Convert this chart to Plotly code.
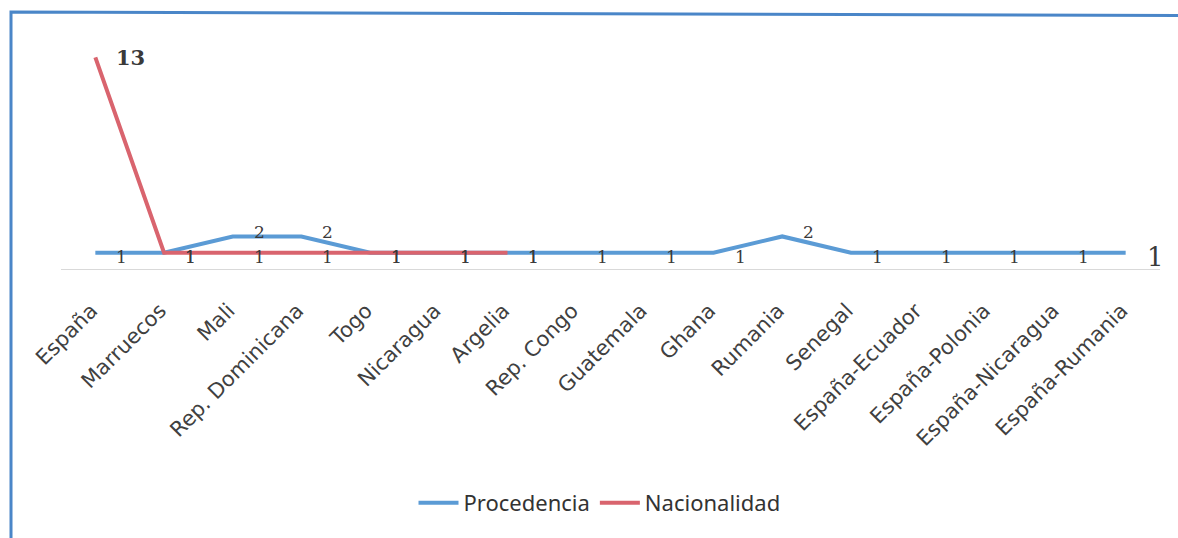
import plotly.graph_objects as go

categories = ["España", "Marruecos", "Mali", "Rep. Dominicana", "Togo", "Nicaragua",
              "Argelia", "Rep. Congo", "Guatemala", "Ghana", "Rumania", "Senegal",
              "España-Ecuador", "España-Polonia", "España-Nicaragua", "España-Rumania"]
procedencia = [1, 1, 2, 2, 1, 1, 1, 1, 1, 1, 2, 1, 1, 1, 1, 1]
nacionalidad = [13, 1, 1, 1, 1, 1, 1, None, None, None, None, None, None, None, None, None]

BLUE = "#5b9bd5"
RED = "#d9646e"

W, H = 1178, 538
L, R, T, B = 61, 18, 41, 269
PW, PH = W - L - R, H - T - B

def px2paper(px, py):
    return (px - L) / PW, (H - B - py) / PH

fig = go.Figure()
fig.add_trace(go.Scatter(x=categories, y=procedencia, mode="lines", name="Procedencia",
                         line=dict(color=BLUE, width=4)))
fig.add_trace(go.Scatter(x=categories, y=nacionalidad, mode="lines", name="Nacionalidad",
                         line=dict(color=RED, width=4), connectgaps=False))

annotations = []
for series in (procedencia, nacionalidad):
    for i, (c, v) in enumerate(zip(categories, series)):
        if v is None:
            continue
        big = (v >= 10)
        last = (i == len(categories) - 1)
        size = 26 if last else (21 if big else 17)
        if big:
            ys = 0
        elif v == 2:
            ys = 4
        else:
            ys = -4
        annotations.append(dict(
            x=c, y=v, xref="x", yref="y", text=str(v), showarrow=False,
            xanchor="left", yanchor="middle", xshift=20, yshift=ys, borderpad=0,
            font=dict(family="DejaVu Serif", size=size, color="#3a3a3a",
                      weight="bold" if big else "normal")))

x0, y0 = px2paper(11, 545)
x1, y1 = px2paper(11, 12)
x2, y2 = px2paper(1190, 15.5)
frame_path = f"M {x0} {y0} L {x1} {y1} L {x2} {y2}"

fig.update_layout(
    width=W, height=H, autosize=False,
    margin=dict(l=L, r=R, t=T, b=B),
    paper_bgcolor="white", plot_bgcolor="white",
    showlegend=True,
    legend=dict(orientation="h", x=0.49, xanchor="center", y=px2paper(0, 503)[1],
                yanchor="middle", font=dict(family="Noto Sans", size=22, color="#333333"),
                itemwidth=40),
    xaxis=dict(type="category", range=[-0.5, 15.5], showgrid=False, zeroline=False,
               showline=True, linecolor="#d9d9d9", linewidth=1, ticks="",
               tickangle=-45, ticklabelstandoff=20, ticklabelshift=-4,
               tickfont=dict(family="DejaVu Sans", size=21, color="#404040")),
    yaxis=dict(range=[0, 14], visible=False, showgrid=False, zeroline=False),
    annotations=annotations,
    shapes=[dict(type="path", path=frame_path, xref="paper", yref="paper",
                 line=dict(color="#4a86c8", width=3))],
)

fig.write_html("out.html", config={"displayModeBar": False},
               post_script="document.body.style.margin='0';")
